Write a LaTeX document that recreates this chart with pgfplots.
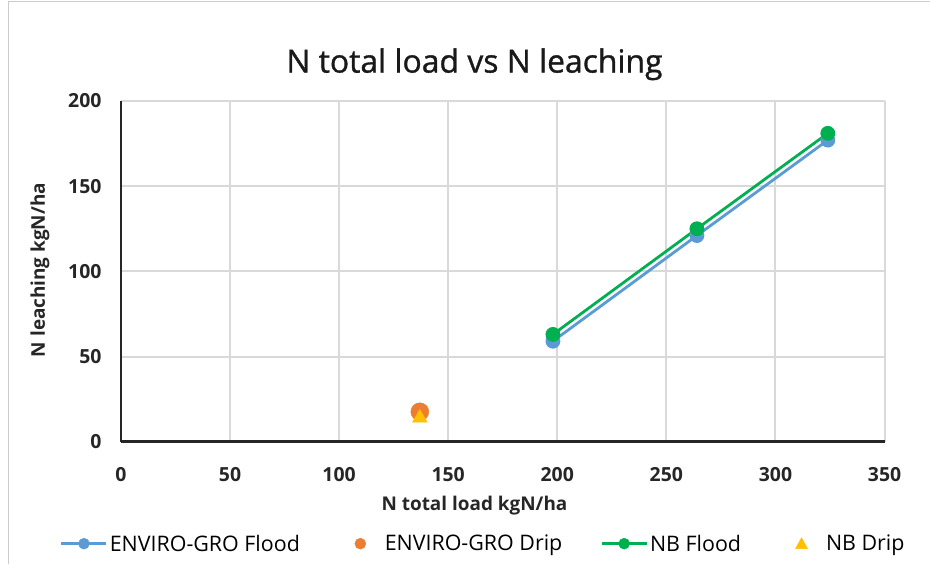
\documentclass[border=0pt]{standalone}
\usepackage{pgfplots}
\pgfplotsset{compat=1.18}
\usepackage{fontspec}
\setmainfont{Open Sans}
\newfontfamily\titlef{Open Sans}[FakeBold=1.0]
\definecolor{cblue}{HTML}{5B9BD5}
\definecolor{corange}{HTML}{ED7D31}
\definecolor{cgreen}{HTML}{00B050}
\definecolor{cyellow}{HTML}{FFC000}
\definecolor{gridc}{HTML}{D9D9D9}
\begin{document}
\begin{tikzpicture}[x=1bp,y=1bp]
\fill[white] (0,0) rectangle (930,564);
\draw[gray!40, line width=1bp] (9,0) -- (9,562) -- (930,562);
\begin{axis}[
  scale only axis,
  width=764bp, height=341bp,
  at={(121bp,122bp)}, anchor=south west,
  xmin=0, xmax=350, ymin=0, ymax=200,
  xtick={0,50,...,350}, ytick={0,50,...,200},
  grid=major,
  major grid style={gridc, line width=2bp},
  axis line style={draw=none},
  tick style={draw=none},
  ticklabel style={font=\bfseries\fontsize{19.5}{24}\selectfont, text=black!85},
  /pgf/number format/assume math mode=true,
  xticklabel style={anchor=base, yshift=-40bp},
  yticklabel style={anchor=east, xshift=-16bp},
  xlabel={N total load kgN/ha},
  ylabel={N leaching kgN/ha},
  label style={font=\bfseries\fontsize{19}{24}\selectfont, text=black!85},
  xlabel style={at={(0.463,-0.188)}, anchor=center},
  ylabel style={at={(-0.106,0.504)}, anchor=center},
  title={N total load vs N leaching},
  title style={font=\titlef\fontsize{32}{38}\selectfont, text=black!90, at={(0.463,1.09)}, anchor=center},
  legend columns=4,
  legend style={draw=none, at={(0.4745,-0.299)}, anchor=center,
    font=\fontsize{21.5}{26}\selectfont,
    /tikz/every odd column/.append style={column sep=0bp},
    /tikz/every even column/.append style={column sep=36bp}},
  legend cell align=left,
  clip=false,
]
\addplot[cblue, line width=2.8bp, mark=*, mark size=6bp, mark options={fill=cblue, draw=cblue}, forget plot] coordinates {(198,59) (264,121) (324,177)};
\addplot[only marks, mark=*, mark size=9bp, mark options={fill=corange, draw=corange}, forget plot] coordinates {(137,17.6)};
\addplot[cgreen, line width=2.8bp, mark=*, mark size=6bp, mark options={fill=cgreen, draw=cgreen}, forget plot] coordinates {(198,63) (264,125) (324,181)};
\addplot[only marks, mark=triangle*, mark size=8.5bp, mark options={fill=cyellow, draw=cyellow}, forget plot] coordinates {(137,14)};
\addlegendimage{legend image code/.code={\draw[cblue,line width=2.8bp] (0bp,0bp) -- (45bp,0bp); \fill[cblue] (22.5bp,0bp) circle (5.5bp);}}
\addlegendentry{ENVIRO-GRO Flood}
\addlegendimage{legend image code/.code={\path[draw=none] (0bp,0bp) -- (45bp,0bp); \fill[corange] (22.5bp,0bp) circle (5.5bp);}}
\addlegendentry{ENVIRO-GRO Drip}
\addlegendimage{legend image code/.code={\draw[cgreen,line width=2.8bp] (0bp,0bp) -- (45bp,0bp); \fill[cgreen] (22.5bp,0bp) circle (5.5bp);}}
\addlegendentry{NB Flood}
\addlegendimage{legend image code/.code={\path[draw=none] (0bp,0bp) -- (45bp,0bp); \fill[cyellow] (16.5bp,-5bp) -- (28.5bp,-5bp) -- (22.5bp,6bp) -- cycle;}}
\addlegendentry{NB Drip}
\draw[black!85, line width=1.2bp] (rel axis cs:0,0) -- (rel axis cs:0,1);
\draw[black!85, line width=2.8bp] (rel axis cs:0,0) -- (rel axis cs:1,0);
\end{axis}
\end{tikzpicture}
\end{document}
